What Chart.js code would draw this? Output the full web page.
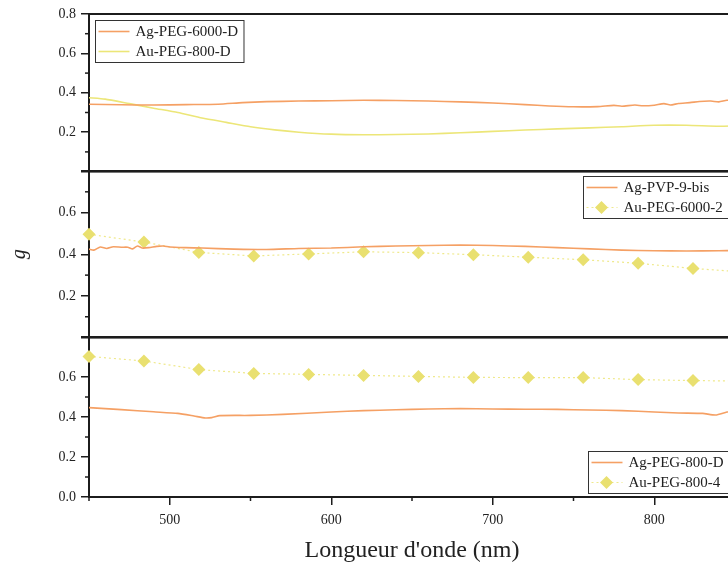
<!DOCTYPE html>
<html>
<head>
<meta charset="utf-8">
<script src="https://cdn.jsdelivr.net/npm/chart.js@4.4.0/dist/chart.umd.min.js"></script>
<style>
html, body { margin: 0; padding: 0; background: #fff; overflow: hidden; }
#wrap { position: relative; width: 728px; height: 565px; overflow: hidden; }
.panel { position: absolute; left: 0; width: 760px; }
</style>
</head>
<body>
<div id="wrap">
   <div class="panel" style="top:0px;height:185px"><canvas id="chart1"></canvas></div>
   <div class="panel" style="top:157px;height:194px"><canvas id="chart2"></canvas></div>
   <div class="panel" style="top:323px;height:242px"><canvas id="chart3"></canvas></div>
</div>
<script>
//top panel: Ag-PEG-6000-D
var agPeg6000Nm = [450, 470, 490, 510, 530, 545, 560, 580, 600, 620, 640, 660, 680, 700, 720, 735, 750, 765, 775, 780, 788, 793, 800, 806, 810, 815, 822, 828, 835, 840, 845, 850];
var agPeg6000G = [0.342, 0.339, 0.338, 0.340, 0.342, 0.350, 0.355, 0.358, 0.360, 0.362, 0.361, 0.358, 0.354, 0.348, 0.340, 0.333, 0.329, 0.330, 0.336, 0.332, 0.338, 0.334, 0.337, 0.345, 0.338, 0.346, 0.350, 0.356, 0.358, 0.354, 0.362, 0.360];
//top panel: Au-PEG-800-D
var auPeg800DNm = [450, 460, 475, 490, 505, 520, 535, 550, 565, 580, 600, 620, 640, 660, 680, 700, 720, 740, 760, 780, 800, 820, 840, 850];
var auPeg800DG = [0.375, 0.368, 0.345, 0.322, 0.300, 0.272, 0.250, 0.228, 0.212, 0.200, 0.190, 0.187, 0.188, 0.191, 0.197, 0.204, 0.211, 0.217, 0.222, 0.228, 0.235, 0.235, 0.230, 0.232];
//middle panel: Ag-PVP-9-bis
var agPvpNm = [450, 453, 457, 461, 465, 470, 474, 477, 480, 483, 487, 492, 496, 500, 510, 520, 540, 560, 580, 600, 620, 640, 660, 680, 700, 720, 740, 760, 780, 800, 820, 840, 850];
var agPvpG = [0.425, 0.420, 0.435, 0.428, 0.436, 0.434, 0.434, 0.426, 0.440, 0.430, 0.432, 0.438, 0.440, 0.435, 0.432, 0.430, 0.425, 0.423, 0.428, 0.430, 0.436, 0.440, 0.442, 0.444, 0.442, 0.438, 0.432, 0.426, 0.420, 0.417, 0.416, 0.417, 0.418];
//wavelengths of the marked curves (last one is only the end of the line)
var markerNm = [450, 484, 518, 552, 586, 620, 654, 688, 722, 756, 790, 824, 850];
//middle panel: Au-PEG-6000-2
var auPeg6000G = [0.496, 0.459, 0.409, 0.392, 0.402, 0.412, 0.408, 0.398, 0.386, 0.374, 0.357, 0.332, 0.318];
//bottom panel: Ag-PEG-800-D
var agPeg800DNm = [450, 470, 490, 505, 515, 522, 526, 531, 550, 570, 600, 620, 640, 660, 680, 700, 720, 740, 760, 780, 800, 815, 830, 838, 845, 850];
var agPeg800DG = [0.447, 0.437, 0.426, 0.418, 0.405, 0.395, 0.397, 0.407, 0.408, 0.413, 0.425, 0.432, 0.436, 0.440, 0.442, 0.440, 0.439, 0.438, 0.435, 0.432, 0.425, 0.420, 0.418, 0.410, 0.425, 0.430];
//bottom panel: Au-PEG-800-4
var auPeg8004G = [0.703, 0.680, 0.637, 0.618, 0.613, 0.608, 0.603, 0.598, 0.597, 0.597, 0.587, 0.582, 0.580];
//axis settings
var xMin = 450, xMax = 850, xStep = 100;
var xTickValues = [500, 600, 700, 800];
var yMin = 0, yMax = 0.8, yStep = 0.2;

var FONT = '"Liberation Serif", "DejaVu Serif", serif';
var ORANGE = '#f5a064';
var YELLOW = '#ece678';
var DIAMOND = '#e9e070';
var INK = '#1c1c1c';

//build {x,y} points from two arrays
function toPoints(xs, ys){
   var pts = [];
   for (var i = 0; i < xs.length; i++) {
      pts.push({x: xs[i], y: ys[i]});
   }
   return pts;
}

function solidSet(label, xs, ys, color){
   return {
      label: label,
      data: toPoints(xs, ys),
      borderColor: color,
      borderWidth: 1.6,
      pointRadius: 0,
      tension: 0.2
   };
}

function markerSet(label, xs, ys){
   return {
      label: label,
      data: toPoints(xs, ys),
      borderColor: '#efe98c',
      borderWidth: 1.2,
      borderDash: [2, 3],
      pointStyle: 'rectRot',
      pointRadius: function(c){ return c.dataIndex == c.dataset.data.length - 1 ? 0 : 6.5; },
      pointBackgroundColor: DIAMOND,
      pointBorderColor: DIAMOND,
      pointBorderWidth: 0,
      clip: false,
      tension: 0
   };
}

//frame, minor ticks and boxed legend
var panelDecor = {
   id: 'panelDecor',
   beforeDatasetsDraw: function(chart){
      var ctx = chart.ctx, a = chart.chartArea;
      ctx.save();
      ctx.strokeStyle = INK;
      ctx.lineWidth = 2;
      ctx.strokeRect(a.left, a.top, a.right - a.left, a.bottom - a.top);
      //minor y ticks halfway between majors
      ctx.lineWidth = 1.5;
      var ys = chart.scales.y;
      for (var i = 0; i < ys.ticks.length - 1; i++) {
         var py = ys.getPixelForValue((ys.ticks[i].value + ys.ticks[i + 1].value) / 2);
         ctx.beginPath(); ctx.moveTo(a.left - 4, py); ctx.lineTo(a.left, py); ctx.stroke();
      }
      //minor x ticks on the bottom panel
      var xs = chart.scales.x;
      if (xs.options.display) {
         var seen = {};
         xs.ticks.forEach(function(t){
            [t.value - xStep / 2, t.value + xStep / 2].forEach(function(v){
               if (v >= xMin && v <= xMax && !seen[v]) {
                  seen[v] = true;
                  var px = xs.getPixelForValue(v);
                  ctx.beginPath(); ctx.moveTo(px, a.bottom); ctx.lineTo(px, a.bottom + 4); ctx.stroke();
               }
            });
         });
      }
      ctx.restore();
   },
   afterDraw: function(chart, args, opts){
      var ctx = chart.ctx, a = chart.chartArea;
      var sets = chart.data.datasets;
      ctx.save();
      ctx.font = '15px ' + FONT;
      var textW = 0;
      sets.forEach(function(d){ textW = Math.max(textW, ctx.measureText(d.label).width); });
      var bx = Math.round(a.left + opts.x) + 0.5, by = Math.round(a.top + opts.y) + 0.5;
      var bw = 40 + textW + 6, bh = 42;
      ctx.fillStyle = '#fff';
      ctx.fillRect(bx, by, bw, bh);
      ctx.strokeStyle = '#333';
      ctx.lineWidth = 1;
      ctx.strokeRect(bx, by, bw, bh);
      sets.forEach(function(d, i){
         var ry = by + 11 + i * 20;
         ctx.strokeStyle = d.borderColor;
         ctx.lineWidth = d.borderWidth;
         ctx.setLineDash(d.borderDash || []);
         ctx.beginPath(); ctx.moveTo(bx + 3, ry); ctx.lineTo(bx + 34, ry); ctx.stroke();
         ctx.setLineDash([]);
         if (d.pointStyle == 'rectRot') {
            var cx = bx + 18, r = 6.5;
            ctx.fillStyle = d.pointBackgroundColor;
            ctx.beginPath();
            ctx.moveTo(cx, ry - r); ctx.lineTo(cx + r, ry); ctx.lineTo(cx, ry + r); ctx.lineTo(cx - r, ry);
            ctx.closePath(); ctx.fill();
         }
         ctx.fillStyle = '#222';
         ctx.textBaseline = 'middle';
         ctx.fillText(d.label, bx + 40, ry + 1);
      });
      ctx.restore();
   }
};

//options shared by the three panels
function panelOptions(cfg){
   return {
      responsive: true,
      maintainAspectRatio: false,
      animation: false,
      layout: { padding: { left: 0, right: 25, top: 14, bottom: cfg.bottom ? 0 : 9 } },
      plugins: {
         legend: { display: false },
         tooltip: { enabled: false },
         panelDecor: cfg.legend
      },
      scales: {
         x: {
            type: 'linear',
            display: !!cfg.bottom,
            min: xMin,
            max: xMax,
            grid: { drawOnChartArea: false, tickLength: 8, color: INK, lineWidth: 1.5 },
            border: { display: false },
            ticks: {
               padding: 7,
               color: '#222',
               font: { family: FONT, size: 14 },
               callback: function(v){ return String(v); }
            },
            title: {
               display: true,
               text: "Longueur d'onde (nm)",
               color: '#222',
               font: { family: FONT, size: 24 },
               padding: { top: 0, bottom: 0 }
            },
            afterBuildTicks: function(s){
               s.ticks = xTickValues.map(function(v){ return {value: v}; });
            },
            afterFit: function(s){ if (cfg.bottom) { s.height = 68; } }
         },
         y: {
            min: yMin,
            max: yMax,
            grid: { drawOnChartArea: false, tickLength: 8, color: INK, lineWidth: 1.5 },
            border: { display: false },
            ticks: {
               stepSize: yStep,
               padding: 5,
               color: '#222',
               font: { family: FONT, size: 14 },
               callback: function(v){
                  var s = Number(v).toFixed(1);
                  return cfg.hide.indexOf(s) >= 0 ? '' : s;
               }
            },
            title: {
               display: !!cfg.yTitle,
               text: 'g',
               color: '#222',
               font: { family: FONT, size: 20, style: 'italic' },
               padding: { top: 8, bottom: 0 }
            },
            afterFit: function(s){ s.width = 89; }
         }
      }
   };
}

function createPanel(id, datasets, cfg){
   var ctx = document.getElementById(id).getContext('2d');
   return new Chart(ctx, {
      type: 'line',
      data: { datasets: datasets },
      options: panelOptions(cfg),
      plugins: [panelDecor]
   });
}

createPanel('chart1', [
   solidSet('Ag-PEG-6000-D', agPeg6000Nm, agPeg6000G, ORANGE),
   solidSet('Au-PEG-800-D', auPeg800DNm, auPeg800DG, YELLOW)
], { hide: ['0.0'], legend: { x: 6, y: 6 } });

createPanel('chart2', [
   solidSet('Ag-PVP-9-bis', agPvpNm, agPvpG, ORANGE),
   markerSet('Au-PEG-6000-2', markerNm, auPeg6000G)
], { hide: ['0.0', '0.8'], yTitle: true, legend: { x: 494, y: 5 } });

createPanel('chart3', [
   solidSet('Ag-PEG-800-D', agPeg800DNm, agPeg800DG, ORANGE),
   markerSet('Au-PEG-800-4', markerNm, auPeg8004G)
], { hide: ['0.8'], bottom: true, legend: { x: 499, y: 114 } });
</script>
</body>
</html>
